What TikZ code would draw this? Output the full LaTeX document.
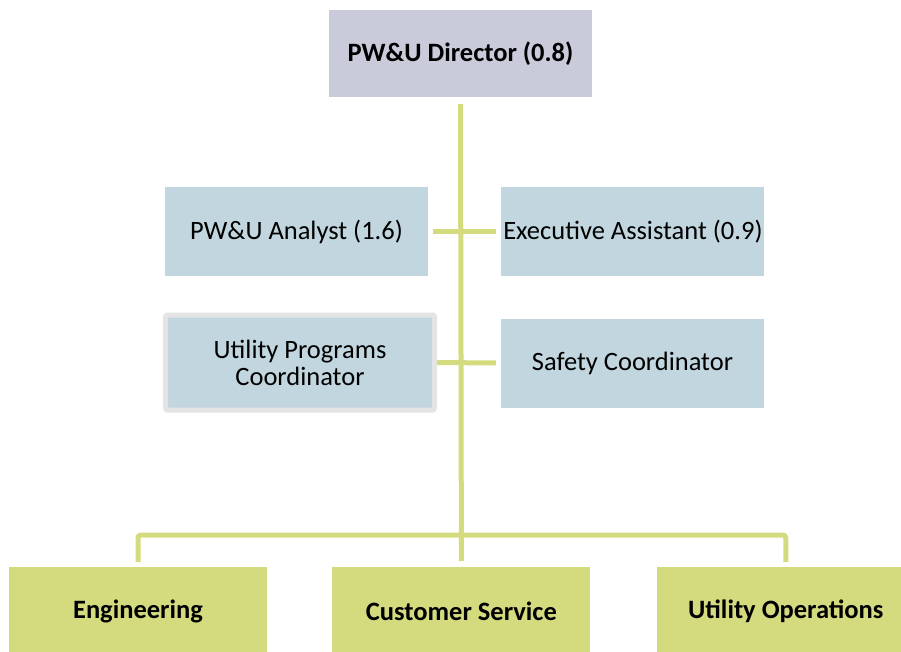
\documentclass[tikz,border=0pt]{standalone}
\usepackage{fontspec}
\setmainfont{Carlito}
\usetikzlibrary{positioning}
\definecolor{dirfill}{HTML}{C9CBDB}
\definecolor{stafffill}{HTML}{C1D6DE}
\definecolor{divfill}{HTML}{D4DB7E}
\definecolor{linkcol}{HTML}{D4DB7E}
\definecolor{framecol}{HTML}{E4E4E4}

\begin{document}
\begin{tikzpicture}[x=1pt,y=1pt,
  font=\fontsize{26.5}{27}\selectfont,
  link/.style={draw=linkcol,line width=5pt},
  head/.style={fill=dirfill,align=center,minimum width=263pt,minimum height=87pt,inner sep=0pt,font=\fontsize{26.5}{27}\selectfont\bfseries},
  staff/.style={fill=stafffill,align=center,minimum width=263pt,minimum height=89pt,inner sep=0pt},
  division/.style={fill=divfill,align=center,minimum width=258pt,minimum height=88pt,inner sep=0pt,font=\fontsize{26.5}{27}\selectfont\bfseries}]
  \useasboundingbox (0,0) rectangle (901,-652);
  \node[head] (dir) at (460.5,-53.5) {PW\&U Director (0.8)};
  \node[staff] (analyst) at (296.5,-231.5) {PW\&U Analyst (1.6)};
  \node[staff,right=73pt of analyst] (exec) {Executive Assistant (0.9)};
  \node[staff,draw=framecol,line width=5pt,rounded corners=2pt,minimum width=269pt,minimum height=95pt] (upc) at (300,-362.5) {Utility Programs\\Coordinator};
  \node[staff] (safety) at (632.5,-363) {Safety Coordinator};
  \node[division,anchor=north] (eng) at (138,-567) {\raisebox{-3pt}{Engineering}};
  \node[division,anchor=north,right=65pt of eng] (cs) {\raisebox{-3pt}{Customer Service}};
  \node[division,anchor=north,right=66pt of cs] (ops) {\raisebox{-3pt}{Utility Operations}};
  \coordinate (bar) at (460.5,-535);
  % connectors
  \draw[link] ([yshift=-7pt]dir.south) -- ([yshift=6pt]cs.north);
  \draw[link] ([xshift=5pt]analyst.east) -- ([xshift=-5pt]exec.west);
  \draw[link] (upc.east) -- ([xshift=-5pt]safety.west);
  \draw[link,rounded corners=3pt] ([yshift=5pt]eng.north) |- (bar) -| ([yshift=5pt]ops.north);
\end{tikzpicture}
\end{document}
